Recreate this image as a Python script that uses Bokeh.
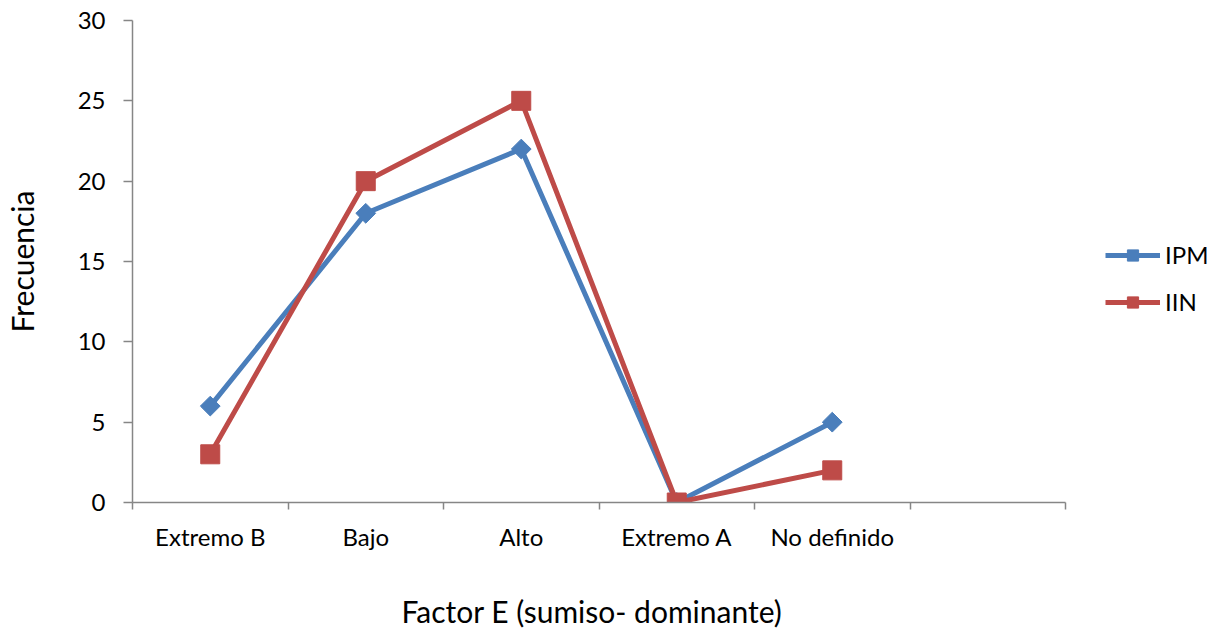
import math
from bokeh.plotting import figure
from bokeh.models import FixedTicker, Legend, LegendItem, Range1d, Title, LinearAxis
from bokeh.embed import file_html
from bokeh.resources import INLINE

categories = ["Extremo B", "Bajo", "Alto", "Extremo A", "No definido"]
n_slots = 6  # one empty slot at the right end of the axis
ipm = [6, 18, 22, 0, 5]
iin = [3, 20, 25, 0, 2]
y_ticks = [0, 5, 10, 15, 20, 25, 30]
x_title = "Factor E (sumiso- dominante)"
y_title = "Frecuencia"

FONT = "Lato"
BLUE = "#4A7EBB"
RED = "#BE4B48"
AXIS = "#868686"

xs = [i + 0.5 for i in range(len(categories))]

W, H = 1213, 631
LEFT, TOP, BOTTOM = 132, 20, 129
AXIS_RIGHT = 1065
slot_px = (AXIS_RIGHT - LEFT) / n_slots
x_end = n_slots + (W - AXIS_RIGHT) / slot_px  # extra room on the right for the legend

p = figure(width=W, height=H, output_backend="svg", toolbar_location=None,
           x_range=Range1d(0, x_end), y_range=Range1d(0, 30),
           min_border_left=LEFT, min_border_right=0, min_border_top=TOP,
           min_border_bottom=BOTTOM)
p.outline_line_color = None
p.xgrid.visible = False
p.ygrid.visible = False
p.background_fill_color = "white"
p.border_fill_color = "white"

# x axis: labels at category centres, tick marks at boundaries (minor ticks)
p.xaxis.bounds = (0, n_slots)
p.xaxis.ticker = FixedTicker(ticks=xs, minor_ticks=list(range(n_slots + 1)))
p.xaxis.major_label_overrides = {x: c for x, c in zip(xs, categories)}
p.xaxis.major_tick_out = 0
p.xaxis.major_tick_in = 0
p.xaxis.minor_tick_out = 7
p.xaxis.minor_tick_in = 0
p.xaxis.minor_tick_line_color = AXIS
p.xaxis.minor_tick_line_width = 1.5
p.xaxis.axis_line_color = AXIS
p.xaxis.axis_line_width = 1.5
p.xaxis.major_label_text_font = FONT
p.xaxis.major_label_text_font_size = "24px"
p.xaxis.major_label_text_color = "black"
p.xaxis.major_label_standoff = 12

# invisible spacer axis between tick labels and the x title
spacer = LinearAxis(ticker=FixedTicker(ticks=[0.5], minor_ticks=[]),
                    major_label_overrides={0.5: ""},
                    major_label_text_font_size="1px",
                    axis_line_color=None, major_tick_line_color=None,
                    minor_tick_line_color=None, major_tick_out=34,
                    major_tick_in=0, minor_tick_out=0, minor_tick_in=0,
                    major_label_standoff=0, axis_label_standoff=0)
p.add_layout(spacer, "below")

# x axis title, centred under the axis (not the whole frame)
xt = Title(text=x_title, align="left", offset=401 - LEFT, standoff=6,
           vertical_align="bottom",
           text_font=FONT, text_font_size="30px", text_font_style="normal",
           text_color="black")
p.add_layout(xt, "below")

p.yaxis.ticker = FixedTicker(ticks=y_ticks, minor_ticks=[])
p.yaxis.major_tick_out = 9
p.yaxis.major_tick_in = 0
p.yaxis.major_tick_line_color = AXIS
p.yaxis.major_tick_line_width = 1.5
p.yaxis.axis_line_color = AXIS
p.yaxis.axis_line_width = 1.5
p.yaxis.major_label_text_font = FONT
p.yaxis.major_label_text_font_size = "24px"
p.yaxis.major_label_text_color = "black"
p.yaxis.major_label_standoff = 18
p.yaxis.axis_label = y_title
p.yaxis.axis_label_text_font = FONT
p.yaxis.axis_label_text_font_size = "30px"
p.yaxis.axis_label_text_font_style = "normal"
p.yaxis.axis_label_text_color = "black"
p.yaxis.axis_label_standoff = 35

l1 = p.line(xs, ipm, line_color=BLUE, line_width=5)
m1 = p.scatter(xs, ipm, marker="square", angle=math.pi / 4, size=14,
               fill_color=BLUE, line_color=BLUE)
l2 = p.line(xs, iin, line_color=RED, line_width=5)
m2 = p.scatter(xs, iin, marker="square", size=19, fill_color=RED, line_color=RED)

legend = Legend(items=[LegendItem(label="IPM", renderers=[l1, m1]),
                       LegendItem(label="IIN", renderers=[l2, m2])],
                location=(1105 - LEFT, 186), orientation="vertical",
                glyph_width=55, glyph_height=28, label_height=28,
                spacing=18, padding=0, margin=0, label_standoff=5,
                border_line_color=None, background_fill_alpha=0,
                label_text_font=FONT, label_text_font_size="24px",
                label_text_color="black")
p.add_layout(legend, "center")

open("out.html", "w").write(file_html(p, INLINE))
